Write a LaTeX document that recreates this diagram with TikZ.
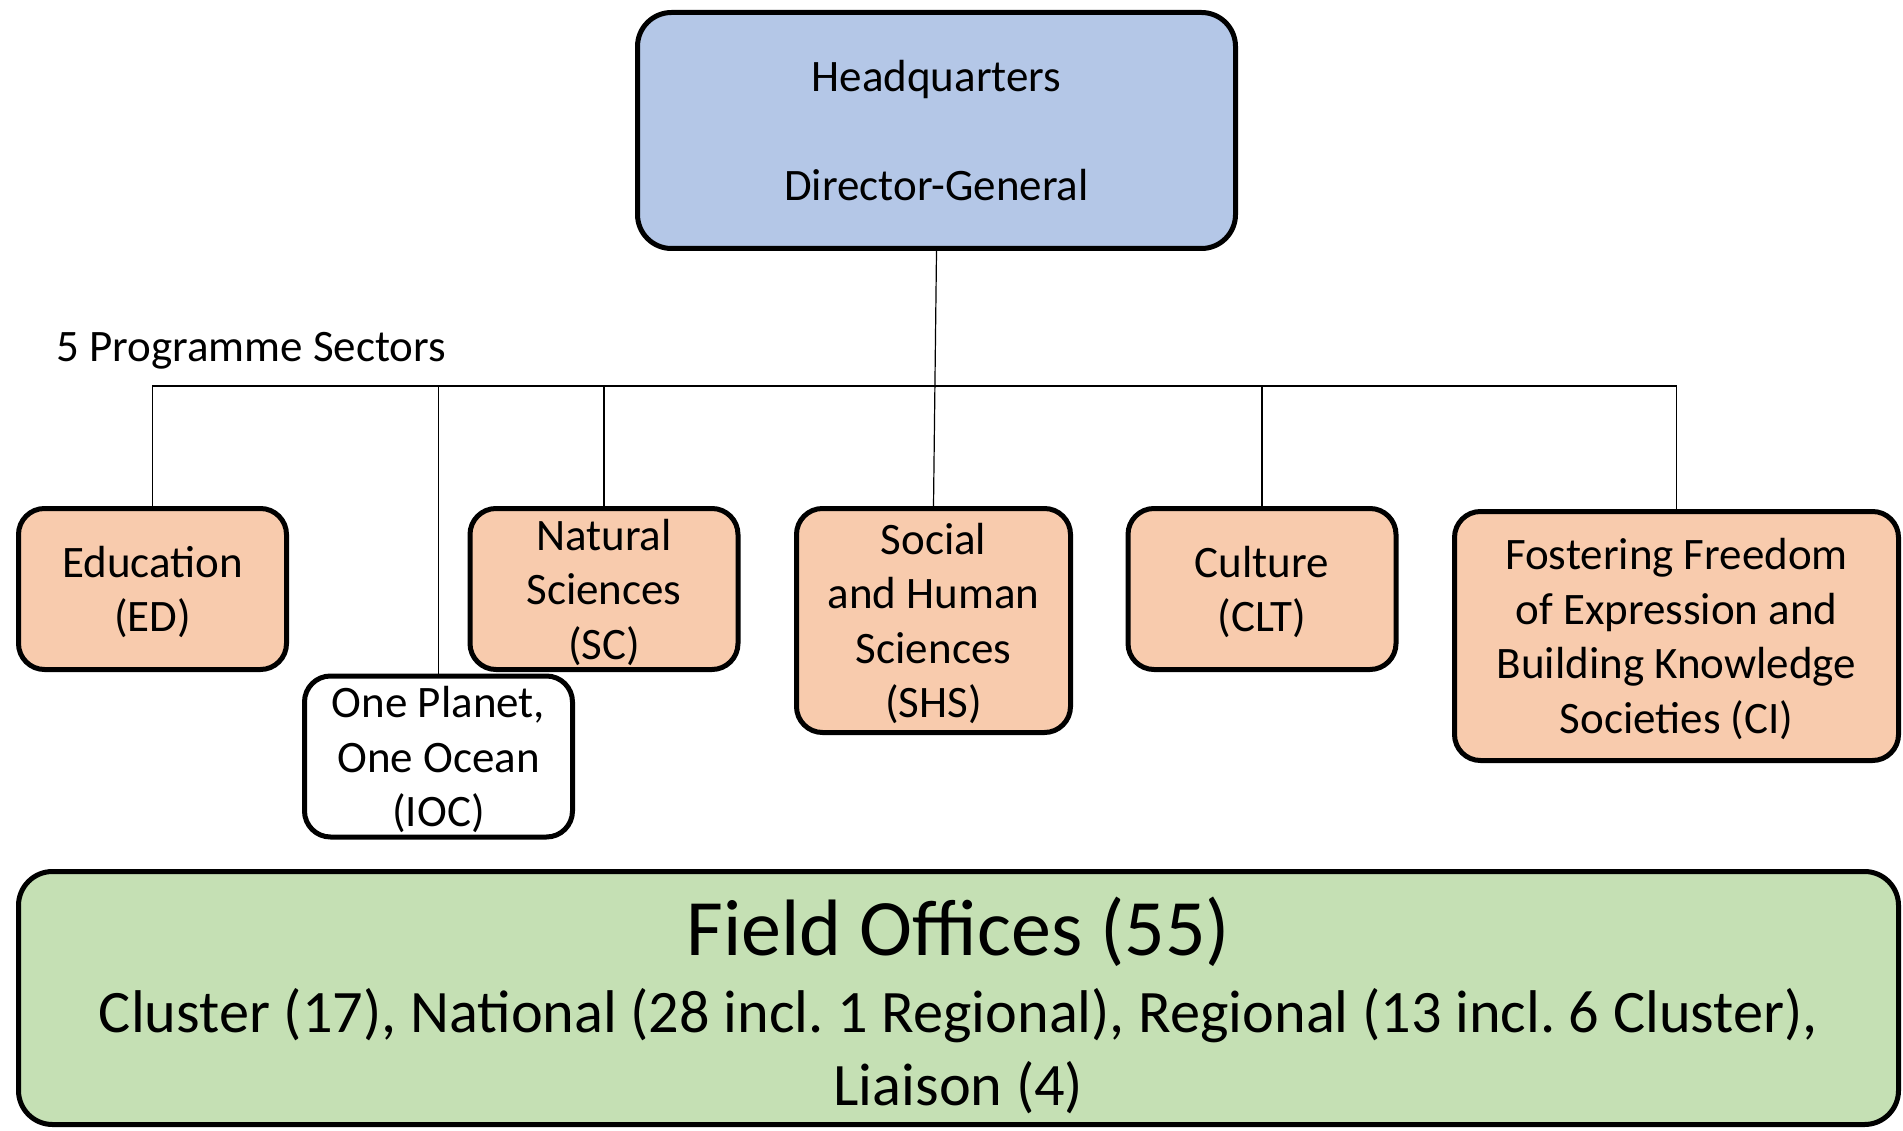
\documentclass[tikz,border=0pt]{standalone}
\usepackage{fontspec}
\setmainfont{Carlito}
\usepackage{tikz}
\frenchspacing
\definecolor{hqblue}{HTML}{B4C7E7}
\definecolor{sectorfill}{HTML}{F8CBAD}
\definecolor{fieldgreen}{HTML}{C5E0B4}
\tikzstyle{line} = [draw, line width=1.2pt]
\tikzstyle{block} = [rectangle, draw, line width=5pt, rounded corners=26pt, fill=sectorfill, align=center, inner sep=0pt, font=\fontsize{45}{54.5}\selectfont]
\tikzstyle{hqblock} = [block, fill=hqblue, rounded corners=34pt, minimum width=598pt, minimum height=236pt]
\tikzstyle{sector} = [block, minimum width=268pt, minimum height=161pt, text depth=-3pt]
\tikzstyle{field} = [block, fill=fieldgreen, rounded corners=34pt, minimum width=1880pt, minimum height=253pt]

\begin{document}
\begin{tikzpicture}[x=1pt, y=-1pt]
	\useasboundingbox (0,0) rectangle (1903,1131);
	\node [hqblock] (hq) at (936.5,130.5) {Headquarters\\[54.5pt]Director-General};
	\node [anchor=base west, inner sep=0pt, font=\fontsize{45}{54.5}\selectfont] (label) at (56,362) {5 Programme Sectors};
	\node [sector] (ed) at (152.5,589) {Education\\(ED)};
	\node [sector, fill=white] (ioc) at (438.5,756.5) {One Planet,\\One Ocean\\(IOC)};
	\node [sector] (sc) at (604,589) {Natural\\Sciences\\(SC)};
	\node [sector, minimum width=274pt, minimum height=224pt] (shs) at (933.5,620.5) {Social\\and Human\\Sciences\\(SHS)};
	\node [sector] (clt) at (1262,589) {Culture\\(CLT)};
	\node [sector, minimum width=444pt, minimum height=249pt] (ci) at (1676.5,636) {Fostering Freedom\\of Expression and\\Building Knowledge\\Societies (CI)};
	\node [field] (fo) at (958.5,998) {};
	\node [font=\fontsize{80}{96}\selectfont, inner sep=0pt] (fotitle) at (958.5,932) {Field Offices (55)};
	\node [font=\fontsize{60.3}{73}\selectfont, align=center, inner sep=0pt] (fotypes) at (958.5,1051) {Cluster (17), National (28 incl. 1 Regional), Regional (13 incl. 6 Cluster),\\Liaison (4)};
	\coordinate (bus) at (0,386);
	\path [line] (ed.north) -- (ed.north |- bus) -- (ci.north |- bus) -- (ci.north);
	\path [line] (hq.south) -- (shs.north);
	\path [line] (ioc.north |- bus) -- (ioc.north);
	\path [line] (sc.north |- bus) -- (sc.north);
	\path [line] (clt.north |- bus) -- (clt.north);
\end{tikzpicture}
\end{document}
